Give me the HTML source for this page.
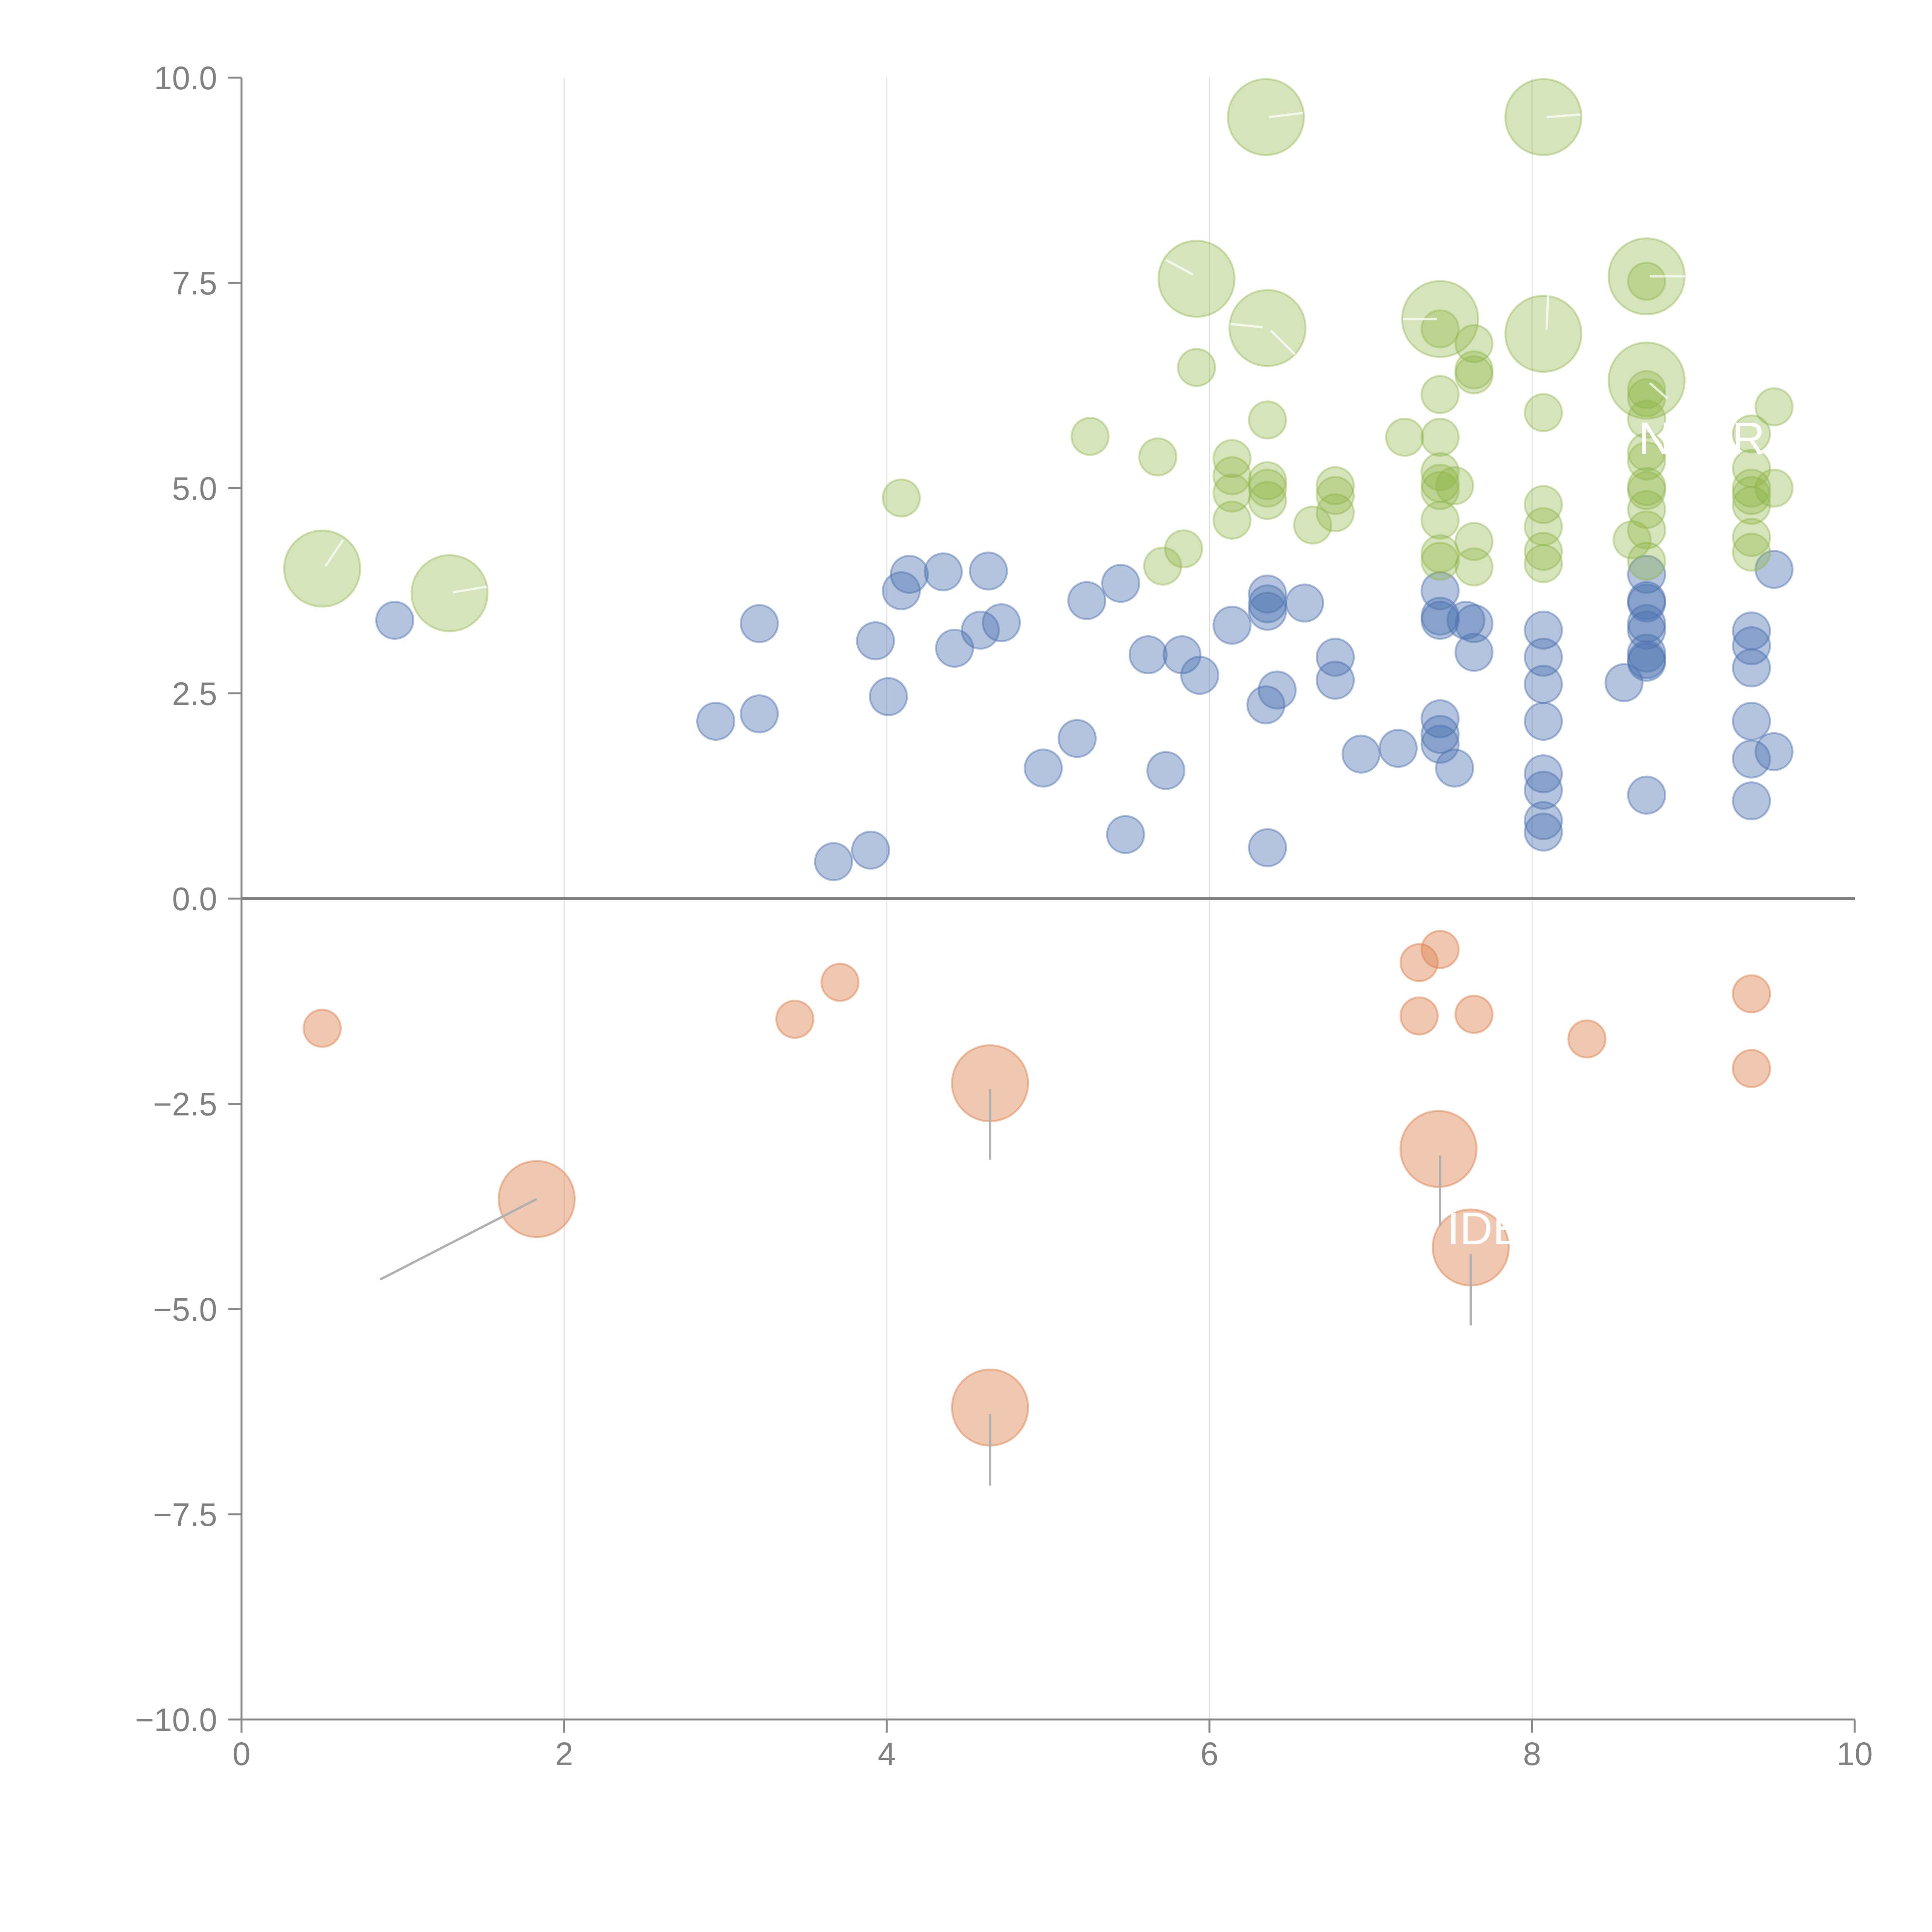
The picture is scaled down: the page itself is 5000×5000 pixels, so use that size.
<!DOCTYPE html>
<html><head><meta charset="utf-8"><style>
html,body{margin:0;padding:0;background:#fff;}
svg{display:block;font-family:"Liberation Sans",Arial,sans-serif;}
</style></head><body>
<svg id="chart" width="5000" height="5000" viewBox="0 0 5000 5000" xmlns="http://www.w3.org/2000/svg">
<g id="grid"></g>
<g id="axes"></g>
<g id="marks"></g>
<g id="labels"></g>
</svg>
<script>
const xTicks=[0,2,4,6,8,10];
const xTickLabels=["0","2","4","6","8","10"];
const yTicks=[10,7.5,5,2.5,0,-2.5,-5,-7.5,-10];
const yTickLabels=["10.0","7.5","5.0","2.5","0.0","\u22122.5","\u22125.0","\u22127.5","\u221210.0"];

const blueX=[0.95,3.21,2.94,3.21,3.67,3.90,3.93,4.01,4.09,4.14,4.35,4.42,4.58,4.63,4.71,4.97,5.18,5.24,5.45,5.48,5.62,5.73,5.83,5.94,6.14,6.35,6.36,6.36,6.36,6.42,6.36,6.59,6.78,6.78,6.94,7.17,7.43,7.43,7.43,7.43,7.43,7.43,7.52,7.59,7.64,7.64,8.07,8.07,8.07,8.07,8.07,8.07,8.07,8.07,8.57,8.71,8.71,8.71,8.71,8.71,8.71,8.71,8.71,8.71,9.36,9.36,9.36,9.36,9.36,9.36,9.50,9.50];
const blueY=[3.39,3.35,2.16,2.25,0.45,0.59,3.14,2.46,3.75,3.95,3.98,3.05,3.27,3.99,3.36,1.59,1.95,3.63,3.84,0.78,2.97,1.56,2.97,2.72,3.33,2.36,3.71,3.59,3.50,2.54,0.62,3.60,2.94,2.66,1.76,1.83,3.75,3.44,3.39,2.19,2.00,1.88,1.59,3.39,3.35,3.00,3.27,2.94,2.61,2.16,1.52,1.32,0.95,0.81,2.63,3.95,3.63,3.60,3.35,3.27,2.99,2.91,2.88,1.26,3.26,3.08,2.81,2.16,1.70,1.19,4.01,1.79];

const greenX=[4.09,5.26,5.68,5.71,5.84,5.92,6.14,6.14,6.14,6.14,6.36,6.36,6.36,6.36,6.64,6.78,6.78,6.78,7.21,7.43,7.43,7.43,7.43,7.43,7.43,7.43,7.43,7.43,7.52,7.64,7.64,7.64,7.64,7.64,8.07,8.07,8.07,8.07,8.07,8.62,8.71,8.71,8.71,8.71,8.71,8.71,8.71,8.71,8.71,8.71,8.71,9.36,9.36,9.36,9.36,9.36,9.36,9.50,9.50,9.36,
 0.50,1.29,6.35,8.07,5.92,6.36,7.43,8.07,8.71,8.71];
const greenY=[4.88,5.63,5.38,4.05,4.26,6.47,5.36,5.15,4.94,4.61,5.83,5.09,5.00,4.85,4.55,5.03,4.91,4.70,5.62,6.94,6.14,5.62,5.20,5.06,4.97,4.61,4.20,4.11,5.03,6.76,6.44,6.38,4.35,4.04,5.92,4.80,4.53,4.23,4.08,4.37,7.52,6.20,6.10,5.84,5.44,5.33,5.02,4.97,4.74,4.49,4.11,5.24,5.00,4.91,4.79,4.40,4.22,5.99,5.00,5.66,
 4.02,3.72,9.52,9.52,7.55,6.95,7.06,6.88,7.58,6.31];
const greenSize=[1,1,1,1,1,1,1,1,1,1,1,1,1,1,1,1,1,1,1,1,1,1,1,1,1,1,1,1,1,1,1,1,1,1,1,1,1,1,1,1,1,1,1,1,1,1,1,1,1,1,1,1,1,1,1,1,1,1,1,1,
 2,2,2,2,2,2,2,2,2,2];

const orangeX=[0.50,3.43,3.71,7.30,7.43,7.30,7.64,8.34,9.36,9.36,1.83,4.64,7.42,7.62,4.64];
const orangeY=[-1.58,-1.47,-1.02,-0.78,-0.62,-1.43,-1.41,-1.71,-1.16,-2.07,-3.66,-2.25,-3.05,-4.25,-6.20];
const orangeSize=[1,1,1,1,1,1,1,1,1,1,2,2,2,2,2];

// annotation connectors (data units): start -> label anchor
const orangeLineX1=[1.83,4.64,7.43,7.62,4.64];
const orangeLineY1=[-3.66,-2.32,-3.13,-4.33,-6.28];
const orangeLineX2=[0.86,4.64,7.43,7.62,4.64];
const orangeLineY2=[-4.64,-3.18,-3.99,-5.20,-7.15];
const greenLineX1=[0.52,1.31,6.37,8.09,5.90,6.33,6.38,7.41,8.09,8.73,8.73];
const greenLineY1=[4.05,3.73,9.52,9.52,7.60,6.96,6.92,7.06,6.93,7.58,6.28];
const greenLineX2=[0.63,1.52,6.58,8.30,5.73,6.13,6.53,7.20,8.10,8.95,8.84];
const greenLineY2=[4.37,3.80,9.57,9.55,7.78,7.00,6.63,7.06,7.40,7.58,6.09];

const NS="http://www.w3.org/2000/svg";
const X0=625,X1=4800,YT=201,YB=4450;
function xs(v){return X0+(v-0)/(10-0)*(X1-X0);}
function ys(v){return YB-(v+10)/20*(YB-YT);}
function mk(tag,attrs,parent){const e=document.createElementNS(NS,tag);for(const k in attrs)e.setAttribute(k,attrs[k]);parent.appendChild(e);return e;}

const grid=document.getElementById('grid'),axes=document.getElementById('axes'),marks=document.getElementById('marks'),labels=document.getElementById('labels');

xTicks.forEach((t,i)=>{
  if(t>0&&t<10){
    const g=mk('line',{x1:xs(t),x2:xs(t),y1:YT,y2:YB,stroke:'#dcdcdc','stroke-width':2.5},grid);
    
    
  }
  const tk=mk('line',{x1:xs(t),x2:xs(t),y1:YB,y2:YB+34,stroke:'#888','stroke-width':5},axes);
  
  
  const tx=mk('text',{x:xs(t),y:4568,'text-anchor':'middle','font-size':84,fill:'#808080'},axes);
  tx.textContent=xTickLabels[i];
  
  
});
yTicks.forEach((t,i)=>{
  const tk=mk('line',{x1:X0-34,x2:X0,y1:ys(t),y2:ys(t),stroke:'#888','stroke-width':5},axes);
  
  
  const tx=mk('text',{x:562,y:ys(t)+30,'text-anchor':'end','font-size':84,fill:'#808080'},axes);
  tx.textContent=yTickLabels[i];
  
  
});
const ya=mk('line',{x1:X0,x2:X0,y1:YT,y2:YB,stroke:'#888','stroke-width':5},axes);


const xa=mk('line',{x1:X0,x2:X1,y1:YB,y2:YB,stroke:'#888','stroke-width':5},axes);


const zl=mk('line',{x1:X0,x2:X1,y1:ys(0),y2:ys(0),stroke:'#808080','stroke-width':7},axes);



const R=48;
function drawSeries(xa_,ya_,sz,fill,stroke,name){
  xa_.forEach((v,i)=>{
    const s=sz?sz[i]:1;
    const c=mk('circle',{cx:xs(v),cy:ys(ya_[i]),r:R*(s===2?2.05:1),fill:fill,stroke:stroke,'stroke-width':5},marks);
    
    
  });
}
drawSeries(blueX,blueY,null,'rgba(76,114,176,0.42)','rgba(76,114,176,0.45)','blue-bubble');
drawSeries(greenX,greenY,greenSize,'rgba(140,180,70,0.36)','rgba(140,180,70,0.4)','green-bubble');
drawSeries(orangeX,orangeY,orangeSize,'rgba(221,132,82,0.45)','rgba(221,132,82,0.5)','orange-bubble');

orangeLineX1.forEach((v,i)=>{
  const l=mk('line',{x1:xs(v),y1:ys(orangeLineY1[i]),x2:xs(orangeLineX2[i]),y2:ys(orangeLineY2[i]),stroke:'#b0b0b0','stroke-width':6},labels);
  
  
});
greenLineX1.forEach((v,i)=>{
  const l=mk('line',{x1:xs(v),y1:ys(greenLineY1[i]),x2:xs(greenLineX2[i]),y2:ys(greenLineY2[i]),stroke:'rgba(255,255,255,0.7)','stroke-width':6},labels);
  
  
});
const t1=mk('text',{x:4240,y:1175,'font-size':118,fill:'#fff'},labels);
t1.textContent='NEAR';


const t2=mk('text',{x:3745,y:3220,'font-size':118,fill:'#fff'},labels);
t2.textContent='IDE';


</script>
</body></html>
